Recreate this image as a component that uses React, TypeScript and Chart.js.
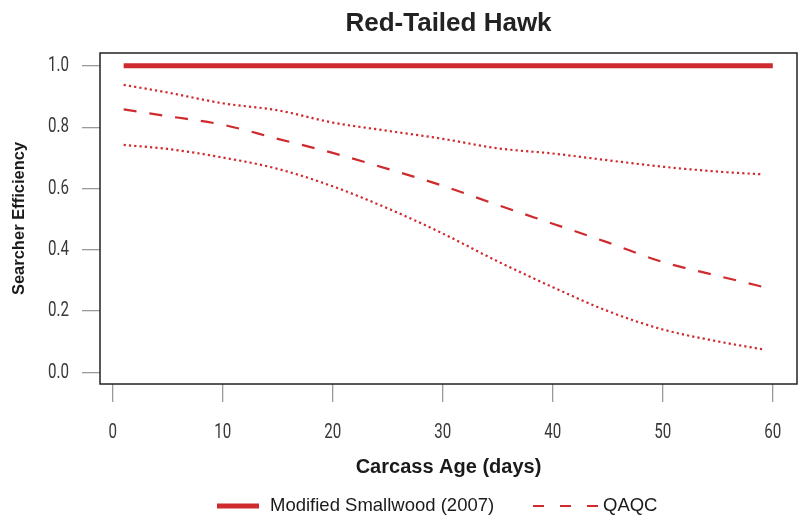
import React, { useEffect, useRef } from "react";
import { Chart, registerables } from "chart.js";

Chart.register(...registerables);

const titleText = "Red-Tailed Hawk";
const xTitle = "Carcass Age (days)";
const yTitle = "Searcher Efficiency";

const days = [1, 5, 10, 15, 20, 25, 30, 35, 40, 45, 50, 55, 60];
const smallwood = [1, 1, 1, 1, 1, 1, 1, 1, 1, 1, 1, 1, 1];
const qaqcMean = [0.858, 0.836, 0.808, 0.762, 0.716, 0.664, 0.609, 0.546, 0.485, 0.424, 0.36, 0.315, 0.271];

const ciDays = [1, 5, 10, 15, 20, 25, 30, 35, 40, 45, 50, 55, 59.1];
const qaqcUpper = [0.938, 0.913, 0.878, 0.855, 0.815, 0.788, 0.762, 0.731, 0.714, 0.692, 0.671, 0.655, 0.646];
const qaqcLower = [0.742, 0.729, 0.701, 0.664, 0.607, 0.535, 0.453, 0.362, 0.278, 0.2, 0.14, 0.101, 0.075];

const xTicks = [0, 10, 20, 30, 40, 50, 60];
const yTicks = [0, 0.2, 0.4, 0.6, 0.8, 1.0];

const legendLabels = ["Modified Smallwood (2007)", "QAQC"];

const RED = "#cf2a2e";
const TICK_FONT = "Roboto, 'Liberation Sans', sans-serif";
const SANS = "'Liberation Sans', Arial, sans-serif";
const CONDENSE = 0.72;

const pts = (xs: number[], ys: number[]) => xs.map((x, i) => ({ x, y: ys[i] }));

// Draw the axis tick labels horizontally condensed (like the reference's condensed face).
const condensePlugin = {
  id: "condenseTicks",
  beforeDraw(chart: any) {
    for (const id of ["x", "y"]) {
      const s = chart.scales[id];
      if (!s || s.__condensed) continue;
      const orig = s.drawLabels;
      s.drawLabels = function (area: any) {
        const ctx = this.ctx;
        const proto = Object.getPrototypeOf(ctx).fillText;
        ctx.fillText = function (t: string, x: number, y: number) {
          this.save();
          this.translate(x, y);
          this.scale(CONDENSE, 1);
          proto.call(this, t, 0, 0);
          this.restore();
        };
        try {
          orig.call(this, area);
        } finally {
          delete ctx.fillText;
        }
      };
      s.__condensed = true;
    }
  },
};

const boxPlugin = {
  id: "boxAndLegend",
  afterDraw(chart: any) {
    const ctx = chart.ctx;
    const a = chart.chartArea;
    ctx.save();
    ctx.strokeStyle = "#222";
    ctx.lineWidth = 1.5;
    ctx.setLineDash([]);
    ctx.strokeRect(a.left, a.top, a.right - a.left, a.bottom - a.top);

    // legend
    const ly = 506;
    ctx.strokeStyle = RED;
    ctx.lineWidth = 5;
    ctx.lineCap = "butt";
    ctx.beginPath();
    ctx.moveTo(217, ly);
    ctx.lineTo(259, ly);
    ctx.stroke();

    ctx.lineWidth = 2;
    ctx.setLineDash([11, 16]);
    ctx.beginPath();
    ctx.moveTo(533, ly);
    ctx.lineTo(598, ly);
    ctx.stroke();
    ctx.setLineDash([]);

    ctx.fillStyle = "#1a1a1a";
    ctx.font = `18.5px ${SANS}`;
    ctx.textBaseline = "middle";
    ctx.textAlign = "left";
    ctx.fillText(legendLabels[0], 270, ly);
    ctx.fillText(legendLabels[1], 603, ly);
    ctx.restore();
  },
};

export default function App() {
  const ref = useRef<HTMLCanvasElement | null>(null);
  useEffect(() => {
    if (!ref.current) return;
    const chart = new Chart(ref.current, {
      type: "line",
      data: {
        datasets: [
          {
            label: legendLabels[0],
            data: pts(days, smallwood),
            borderColor: RED,
            borderWidth: 5,
            pointRadius: 0,
            borderCapStyle: "butt",
          },
          {
            label: legendLabels[1],
            data: pts(days, qaqcMean),
            borderColor: RED,
            borderWidth: 2.2,
            borderDash: [13, 13],
            pointRadius: 0,
            cubicInterpolationMode: "monotone",
          },
          {
            label: "QAQC upper",
            data: pts(ciDays, qaqcUpper),
            borderColor: RED,
            borderWidth: 2.2,
            borderDash: [2.2, 3.1],
            pointRadius: 0,
            cubicInterpolationMode: "monotone",
          },
          {
            label: "QAQC lower",
            data: pts(ciDays, qaqcLower),
            borderColor: RED,
            borderWidth: 2.2,
            borderDash: [2.2, 3.1],
            pointRadius: 0,
            cubicInterpolationMode: "monotone",
          },
        ],
      },
      options: {
        responsive: false,
        animation: false,
        devicePixelRatio: 1,
        layout: { padding: { left: 0, right: 7, top: 0, bottom: 0 } },
        plugins: {
          legend: { display: false },
          tooltip: { enabled: false },
          title: {
            display: true,
            text: titleText,
            fullSize: false,
            color: "#222",
            font: { family: SANS, size: 26, weight: "bold" },
            padding: { top: 8, bottom: 13.8 },
          },
        },
        scales: {
          x: {
            type: "linear",
            min: -1.15,
            max: 62.2,
            afterBuildTicks: (s: any) => {
              s.ticks = xTicks.map((v) => ({ value: v }));
            },
            afterFit: (s: any) => {
              s.height = 139;
            },
            grid: {
              drawOnChartArea: false,
              drawTicks: true,
              tickLength: 18,
              color: "#9a9a9a",
              lineWidth: 1.3,
            },
            border: { display: false },
            ticks: {
              padding: 18,
              color: "#383838",
              font: { family: TICK_FONT, size: 21, weight: "400" },
              maxRotation: 0,
              callback: (v: any) => String(v),
            },
            title: {
              display: true,
              text: xTitle,
              color: "#1a1a1a",
              font: { family: SANS, size: 20, weight: "bold" },
              padding: { top: 0, bottom: 44 },
            },
          },
          y: {
            type: "linear",
            min: -0.038,
            max: 1.042,
            afterBuildTicks: (s: any) => {
              s.ticks = yTicks.map((v) => ({ value: v }));
            },
            afterFit: (s: any) => {
              s.width = 100;
            },
            grid: {
              drawOnChartArea: false,
              drawTicks: true,
              tickLength: 18,
              color: "#9a9a9a",
              lineWidth: 1.3,
            },
            border: { display: false },
            ticks: {
              padding: 13,
              color: "#383838",
              font: { family: TICK_FONT, size: 21, weight: "400" },
              callback: (v: any) => Number(v).toFixed(1),
            },
            title: {
              display: true,
              text: yTitle,
              color: "#1a1a1a",
              font: { family: SANS, size: 16.5, weight: "bold" },
              padding: { top: 10, bottom: 0 },
            },
          },
        },
      },
      plugins: [condensePlugin, boxPlugin],
    } as any);
    return () => chart.destroy();
  }, []);

  return (
    <div style={{ position: "absolute", left: 0, top: 0, width: 804, height: 523, background: "#fff" }}>
      <canvas ref={ref} width={804} height={523} style={{ width: 804, height: 523, display: "block" }} />
    </div>
  );
}
